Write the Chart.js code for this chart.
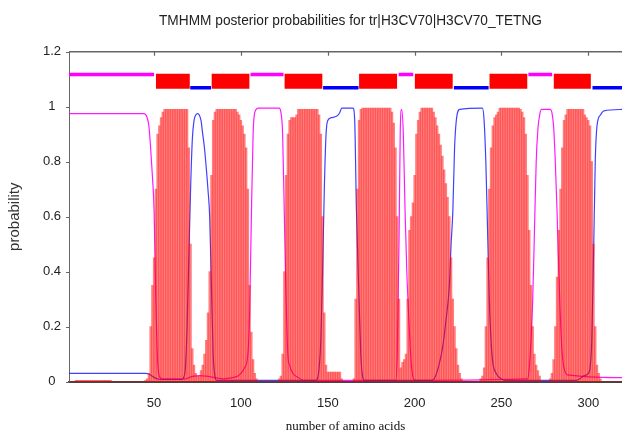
<!DOCTYPE html>
<html>
<head>
<meta charset="utf-8">
<script src="https://cdn.jsdelivr.net/npm/chart.js@4/dist/chart.umd.min.js"></script>
<style>
html, body { margin: 0; padding: 0; background: #fff; }
#wrap { width: 622px; height: 433px; }
</style>
</head>
<body>
<div id="wrap"><canvas id="chart" width="622" height="433"></canvas></div>
<script>
const titleText = 'TMHMM posterior probabilities for tr|H3CV70|H3CV70_TETNG';
const xLabel = 'number of amino acids';
const yLabel = 'probability';
const xTicks = [50, 100, 150, 200, 250, 300];
const yTicks = [0, 0.2, 0.4, 0.6, 0.8, 1, 1.2];

// transmembrane posterior, one value per residue starting at 1
const tmProb = [
  0, 0, 0, 0, 0.005, 0.005, 0.005, 0.005, 0.005, 0.005,
  0.005, 0.005, 0.005, 0.005, 0.005, 0.005, 0.005, 0.005, 0.005, 0.005,
  0.005, 0.005, 0.005, 0.005, 0.005, 0, 0, 0, 0, 0,
  0, 0, 0, 0, 0, 0, 0, 0, 0, 0,
  0, 0, 0, 0, 0.005, 0.01, 0.03, 0.2, 0.35, 0.45,
  0.7, 0.9, 0.93, 0.96, 0.98, 0.99, 0.99, 0.99, 0.99, 0.99,
  0.99, 0.99, 0.99, 0.99, 0.99, 0.99, 0.99, 0.99, 0.99, 0.85,
  0.5, 0.12, 0.06, 0.03, 0.02, 0.02, 0.04, 0.06, 0.1, 0.15,
  0.25, 0.4, 0.75, 0.95, 0.98, 0.99, 0.99, 0.99, 0.99, 0.99,
  0.99, 0.99, 0.99, 0.99, 0.99, 0.99, 0.99, 0.98, 0.97, 0.95,
  0.93, 0.9, 0.85, 0.7, 0.35, 0.18, 0.08, 0.03, 0.01, 0,
  0, 0, 0, 0, 0, 0, 0, 0, 0, 0,
  0, 0.01, 0.02, 0.1, 0.4, 0.75, 0.9, 0.95, 0.96, 0.96,
  0.96, 0.97, 0.99, 0.99, 0.99, 0.99, 0.99, 0.99, 0.99, 0.99,
  0.99, 0.99, 0.99, 0.99, 0.97, 0.9, 0.6, 0.25, 0.06, 0.035,
  0.035, 0.035, 0.035, 0.035, 0.035, 0.035, 0.035, 0.01, 0, 0,
  0, 0, 0, 0, 0.01, 0.3, 0.7, 0.95, 0.99, 0.995,
  0.995, 0.995, 0.995, 0.995, 0.995, 0.995, 0.995, 0.995, 0.995, 0.995,
  0.995, 0.995, 0.995, 0.995, 0.995, 0.995, 0.98, 0.94, 0.85, 0.6,
  0.3, 0.05, 0.07, 0.08, 0.1, 0.3, 0.55, 0.6, 0.65, 0.75,
  0.9, 0.95, 0.98, 0.995, 0.995, 0.995, 0.995, 0.995, 0.995, 0.995,
  0.98, 0.96, 0.93, 0.9, 0.86, 0.82, 0.77, 0.72, 0.67, 0.6,
  0.45, 0.3, 0.2, 0.12, 0.06, 0.03, 0.01, 0, 0, 0,
  0, 0, 0, 0, 0, 0, 0, 0.01, 0.02, 0.05,
  0.2, 0.45, 0.7, 0.85, 0.93, 0.96, 0.97, 0.98, 0.995, 0.995,
  0.995, 0.995, 0.995, 0.995, 0.995, 0.995, 0.995, 0.995, 0.995, 0.995,
  0.99, 0.98, 0.96, 0.9, 0.75, 0.55, 0.35, 0.2, 0.1, 0.06,
  0.04, 0.02, 0, 0, 0, 0, 0, 0.01, 0.03, 0.08,
  0.2, 0.38, 0.55, 0.7, 0.85, 0.95, 0.97, 0.99, 0.99, 0.99,
  0.99, 0.99, 0.99, 0.99, 0.99, 0.99, 0.99, 0.97, 0.96, 0.95,
  0.93, 0.8, 0.5, 0.2, 0.06, 0.03, 0.01, 0, 0, 0,
  0, 0, 0, 0, 0, 0, 0, 0, 0, 0
];

// inside posterior, [residue, probability]
const insideProb = [
  [1, 0.03], [45, 0.03], [47, 0.028], [49, 0.02], [51, 0.012], [54, 0.008], [66, 0.008],
  [67, 0.015], [68, 0.05], [69, 0.2], [70, 0.45], [71, 0.7], [72, 0.88], [73, 0.95],
  [74, 0.97], [75, 0.975], [76, 0.97], [77, 0.95], [78, 0.9], [79, 0.85], [80, 0.78],
  [81, 0.7], [82, 0.6], [83, 0.35], [84, 0.1], [85, 0.02], [86, 0.005], [143, 0.005],
  [144, 0.01], [145, 0.05], [146, 0.15], [147, 0.4], [148, 0.7], [149, 0.9], [150, 0.95],
  [152, 0.96], [155, 0.965], [156, 0.97], [157, 0.98], [158, 0.995], [164.5, 0.995],
  [165.5, 0.95], [166.5, 0.62], [168, 0.3], [169, 0.1], [170, 0.02], [171, 0.005],
  [210, 0.005], [212, 0.02], [214, 0.06], [216, 0.12], [218, 0.22], [220, 0.35],
  [221, 0.5], [222, 0.62], [223, 0.85], [224, 0.95], [226, 0.99], [239, 0.995],
  [240, 0.95], [241, 0.8], [242, 0.55], [243, 0.3], [244, 0.15], [245, 0.07], [247, 0.03],
  [250, 0.01], [252, 0.005], [293, 0.005], [295, 0.01], [297, 0.02], [300, 0.03],
  [301, 0.05], [302, 0.15], [303, 0.45], [304, 0.8], [305, 0.93], [307, 0.97],
  [309, 0.985], [320, 0.99]
];

// outside posterior, [residue, probability]
const outsideProb = [
  [1, 0.975], [44, 0.975], [45, 0.972], [46, 0.96], [47, 0.93], [48, 0.85], [49, 0.75],
  [50, 0.62], [51, 0.3], [52, 0.08], [53, 0.02], [55, 0.01], [68, 0.01], [70, 0.015],
  [73, 0.02], [76, 0.022], [80, 0.02], [85, 0.015], [90, 0.01], [95, 0.015], [98, 0.02],
  [100, 0.03], [102, 0.05], [104, 0.1], [105, 0.25], [106, 0.6], [107, 0.9], [108, 0.98],
  [110, 0.995], [122, 0.995], [123, 0.98], [124, 0.9], [125, 0.6], [126, 0.3], [127, 0.1],
  [128, 0.06], [130, 0.03], [133, 0.015], [136, 0.005], [189, 0.005], [190, 0.1],
  [191, 0.5], [191.7, 0.9], [192.5, 0.99], [193.5, 0.9], [194.5, 0.62], [195.5, 0.4],
  [196.5, 0.25], [197.5, 0.12], [198.5, 0.04], [199.5, 0.01], [201, 0.005], [265, 0.01],
  [266, 0.05], [267, 0.15], [268, 0.3], [269, 0.55], [270, 0.8], [271, 0.92], [272, 0.97],
  [273, 0.99], [278, 0.99], [279, 0.98], [280, 0.93], [281, 0.8], [282, 0.62], [283, 0.4],
  [284, 0.22], [285, 0.1], [286, 0.05], [288, 0.025], [320, 0.015]
];

// predicted topology, [start, end] residues
const outsideSegs = [[1, 50], [105.5, 124.5], [190.8, 199.2], [265.5, 279.2]];
const tmSegs = [[51, 70.6], [83, 105], [125, 147], [168, 190], [200, 222], [243, 265], [280, 301.5]];
const insideSegs = [[70.8, 82.8], [147.3, 167.7], [222.6, 242.6], [302.4, 320]];
const outsideLevel = 1.117;
const insideLevel = 1.069;
const tmBox = [1.065, 1.12];

const segLine = (seg, level, color) => ({
  type: 'line',
  data: [{ x: seg[0], y: level }, { x: seg[1], y: level }],
  borderColor: color,
  borderWidth: 3.5,
  borderCapStyle: 'butt',
  pointRadius: 0,
  fill: false
});

const datasets = [
  {
    type: 'bar',
    data: tmProb.map((v, i) => ({ x: i + 1, y: v })),
    backgroundColor: 'rgba(255, 0, 0, 0.5)',
    borderWidth: 0,
    barPercentage: 1,
    categoryPercentage: 1
  },
  {
    type: 'line',
    data: insideProb.map(p => ({ x: p[0], y: p[1] })),
    borderColor: 'rgba(30, 30, 255, 0.85)',
    borderWidth: 1.2,
    pointRadius: 0,
    cubicInterpolationMode: 'monotone',
    fill: false
  },
  {
    type: 'line',
    data: outsideProb.map(p => ({ x: p[0], y: p[1] })),
    borderColor: 'rgba(255, 0, 255, 0.9)',
    borderWidth: 1.2,
    pointRadius: 0,
    cubicInterpolationMode: 'monotone',
    fill: false
  }
];
tmSegs.forEach(s => datasets.push({
  type: 'line',
  data: [{ x: s[0], y: tmBox[1] }, { x: s[1], y: tmBox[1] }],
  borderWidth: 0,
  pointRadius: 0,
  backgroundColor: '#ff0000',
  fill: { value: tmBox[0] }
}));
outsideSegs.forEach(s => datasets.push(segLine(s, outsideLevel, '#ff00ff')));
insideSegs.forEach(s => datasets.push(segLine(s, insideLevel, '#0000ff')));

// gnuplot style frame: top border, inward top ticks, short left ticks, title
const frame = {
  id: 'frame',
  afterDraw(chart) {
    const { ctx, chartArea: a, scales: { x, y } } = chart;
    ctx.save();
    ctx.strokeStyle = '#666';
    ctx.lineWidth = 1.5;
    ctx.beginPath();
    ctx.moveTo(a.left, a.top);
    ctx.lineTo(a.right, a.top);
    ctx.stroke();
    ctx.lineWidth = 1.2;
    ctx.beginPath();
    xTicks.forEach(v => {
      const px = Math.round(x.getPixelForValue(v)) + 0.5;
      ctx.moveTo(px, a.top);
      ctx.lineTo(px, a.top + 4);
    });
    yTicks.forEach(v => {
      const py = Math.round(y.getPixelForValue(v)) + 0.5;
      ctx.moveTo(a.left - 3, py);
      ctx.lineTo(a.left, py);
    });
    ctx.stroke();

    ctx.fillStyle = '#222';
    ctx.font = '14px "Liberation Sans", Arial, sans-serif';
    ctx.textAlign = 'center';
    ctx.textBaseline = 'middle';
    const w = ctx.measureText(titleText).width;
    ctx.translate(350.5, 21);
    ctx.scale(383 / w, 1);
    ctx.fillText(titleText, 0, 0);
    ctx.restore();
  }
};

new Chart(document.getElementById('chart'), {
  data: { datasets },
  plugins: [frame],
  options: {
    responsive: false,
    animation: false,
    devicePixelRatio: 1,
    layout: { padding: { top: 51.7, left: 0, right: 0, bottom: 0 } },
    plugins: { legend: { display: false }, tooltip: { enabled: false } },
    scales: {
      x: {
        type: 'linear',
        min: 1,
        max: 319.4,
        offset: false,
        z: 1,
        afterFit: s => { s.height = 51.3; },
        afterBuildTicks: s => { s.ticks = xTicks.map(v => ({ value: v })); },
        grid: { display: false, drawTicks: false },
        border: { display: true, color: '#444', width: 2 },
        ticks: {
          padding: 14,
          color: '#222',
          font: { family: '"Liberation Sans", Arial, sans-serif', size: 13 },
          maxRotation: 0,
          autoSkip: false
        },
        title: {
          display: true,
          text: xLabel,
          color: '#111',
          font: { family: '"Liberation Serif", "Times New Roman", serif', size: 13, lineHeight: 1 },
          padding: { top: 0, bottom: 0 }
        }
      },
      y: {
        type: 'linear',
        min: 0,
        max: 1.2,
        z: 1,
        afterFit: s => { s.width = 69; },
        afterBuildTicks: s => { s.ticks = yTicks.map(v => ({ value: v })); },
        grid: { display: false, drawTicks: false },
        border: { display: true, color: '#666', width: 1 },
        ticks: {
          padding: 8,
          crossAlign: 'center',
          color: '#222',
          font: { family: '"Liberation Sans", Arial, sans-serif', size: 13 },
          callback: v => String(+v.toFixed(1))
        },
        title: {
          display: true,
          text: yLabel,
          color: '#333',
          font: { family: '"Liberation Sans", Arial, sans-serif', size: 15 },
          padding: { top: 6, bottom: 0 }
        }
      }
    }
  }
});
</script>
</body>
</html>
